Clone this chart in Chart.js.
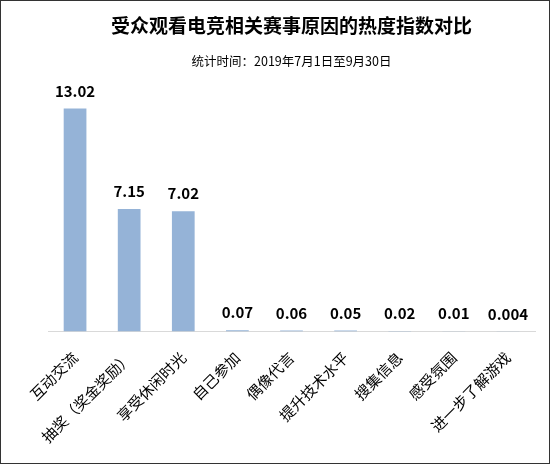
<!DOCTYPE html>
<html>
<head>
<meta charset="utf-8">
<script src="https://cdn.jsdelivr.net/npm/chart.js@4"></script>
<style>
  body { margin: 0; background: #fff; }
  #wrap { width: 550px; height: 464px; box-sizing: border-box; border: 1px solid #333; position: relative; }
  canvas { display: block; }
</style>
</head>
<body>
<div id="wrap"><canvas id="reasonChart" width="548" height="462"></canvas></div>
<script>
const categories = ['互动交流', '抽奖（奖金奖励）', '享受休闲时光', '自己参加', '偶像代言', '提升技术水平', '搜集信息', '感受氛围', '进一步了解游戏'];
const heatIndex = [13.02, 7.15, 7.02, 0.07, 0.06, 0.05, 0.02, 0.01, 0.004];
const valueLabels = ['13.02', '7.15', '7.02', '0.07', '0.06', '0.05', '0.02', '0.01', '0.004'];

const fontFamily = '"Noto Sans CJK SC", "Noto Sans", sans-serif';

// draws the number above each bar
const barValues = {
    id: 'barValues',
    afterDatasetsDraw(chart) {
        const ctx = chart.ctx;
        const meta = chart.getDatasetMeta(0);
        ctx.save();
        ctx.fillStyle = '#000';
        ctx.font = 'bold 15px ' + fontFamily;
        ctx.textAlign = 'center';
        ctx.textBaseline = 'bottom';
        meta.data.forEach((bar, i) => {
            ctx.fillText(valueLabels[i], bar.x, bar.y - 10);
        });
        ctx.restore();
    }
};

const ctx = document.getElementById('reasonChart').getContext('2d');
const reasonChart = new Chart(ctx, {
    type: 'bar',
    data: {
        labels: categories,
        datasets: [{
            data: heatIndex,
            backgroundColor: '#95B3D7',
            barPercentage: 0.42,
            categoryPercentage: 1
        }]
    },
    options: {
        responsive: false,
        animation: false,
        layout: { padding: { left: 47, right: 14, bottom: 0, top: 0 } },
        plugins: {
            legend: { display: false },
            tooltip: { enabled: false },
            title: {
                display: true,
                text: '受众观看电竞相关赛事原因的热度指数对比',
                color: '#000',
                font: { family: fontFamily, size: 19, weight: 'bold' },
                padding: { top: 13, bottom: 10 }
            },
            subtitle: {
                display: true,
                text: '统计时间：2019年7月1日至9月30日',
                color: '#000',
                font: { family: fontFamily, size: 12.5 },
                padding: { top: 7, bottom: 10 }
            }
        },
        scales: {
            x: {
                grid: { display: false, drawTicks: false },
                border: { color: '#d9d9d9', width: 1 },
                ticks: {
                    color: '#000',
                    font: { family: fontFamily, size: 15 },
                    minRotation: 45,
                    maxRotation: 45,
                    padding: 17,
                    autoSkip: false
                }
            },
            y: {
                display: false,
                min: 0,
                max: 14.76
            }
        }
    },
    plugins: [barValues]
});
</script>
</body>
</html>
